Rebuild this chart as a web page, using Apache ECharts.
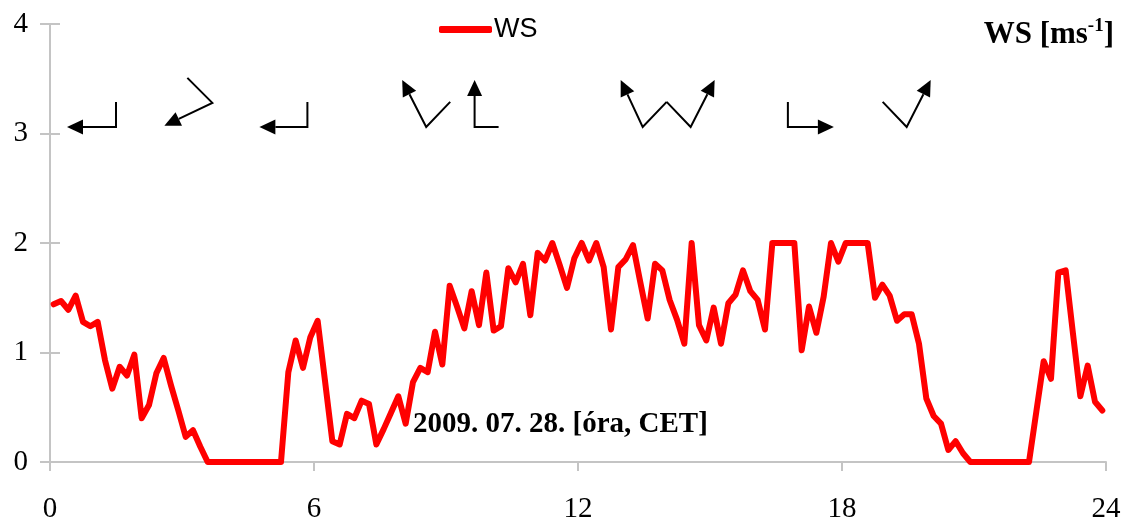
<!DOCTYPE html>
<html>
<head>
<meta charset="utf-8">
<script src="https://cdn.jsdelivr.net/npm/echarts@6/dist/echarts.min.js"></script>
<style>
html,body{margin:0;padding:0;background:#fff;}
#chart{width:1135px;height:524px;}
</style>
</head>
<body>
<div id="chart"></div>
<script>
// 10-minute wind speed values, 2009-07-28 (144 intervals, plotted at interval centres)
const wsValues = [
  1.44,1.47,1.39,1.52,1.28,1.24,1.28,0.93,0.67,0.87,0.79,0.98,
  0.40,0.52,0.81,0.95,0.70,0.47,0.23,0.29,0.14,0.00,0.00,0.00,
  0.00,0.00,0.00,0.00,0.00,0.00,0.00,0.00,0.82,1.11,0.86,1.14,
  1.29,0.74,0.19,0.16,0.44,0.40,0.56,0.53,0.16,0.30,0.45,0.60,
  0.35,0.73,0.86,0.82,1.19,0.89,1.61,1.42,1.22,1.56,1.25,1.73,
  1.20,1.24,1.77,1.64,1.81,1.34,1.91,1.84,2.00,1.80,1.59,1.86,
  2.00,1.84,2.00,1.78,1.21,1.78,1.85,1.98,1.64,1.31,1.81,1.75,
  1.48,1.30,1.08,2.00,1.25,1.11,1.41,1.08,1.45,1.53,1.75,1.56,
  1.48,1.21,2.00,2.00,2.00,2.00,1.02,1.42,1.18,1.51,2.00,1.83,
  2.00,2.00,2.00,2.00,1.50,1.62,1.52,1.29,1.35,1.35,1.08,0.58,
  0.42,0.35,0.11,0.19,0.08,0.00,0.00,0.00,0.00,0.00,0.00,0.00,
  0.00,0.00,0.46,0.92,0.76,1.73,1.75,1.17,0.60,0.88,0.55,0.47
];
const stepsPerHour = 6;
const xTicks = [0, 6, 12, 18, 24];
const yTicks = [0, 1, 2, 3, 4];
const seriesName = 'WS';
const unitTitle = 'WS [ms{sup|-1}]';
const dateLabel = '2009. 07. 28. [óra, CET]';

// wind direction glyphs: hour and level of the corner, tail and head vectors (px)
const arrowHours  = [1.50, 3.69, 5.85, 8.55, 9.65, 13.47, 14.56, 16.77, 19.47];
const arrowLevels = [3.06, 3.28, 3.06, 3.06, 3.06, 3.06, 3.06, 3.06, 3.06];
const arrowTails  = [[0,-25],[-25,-25],[0,-25],[24,-25],[24,0],[24,-25],[-24,-25],[0,-25],[-24,-25]];
const arrowHeads  = [[-49,0],[-48,23],[-48,0],[-24,-47],[0,-47],[-22,-47],[24,-47],[46,0],[24,-47]];

const lineData = wsValues.map((v, i) => [(i + 0.5) / stepsPerHour, v]);
const arrowData = arrowHours.map((h, i) => [h, arrowLevels[i], i]);

const chart = echarts.init(document.getElementById('chart'));
const serif = '"Liberation Serif", "Times New Roman", serif';
const sans = '"Liberation Sans", Arial, sans-serif';
const axisGrey = '#c4c4c4';

chart.setOption({
  animation: false,
  backgroundColor: '#ffffff',
  grid: {left: 50, right: 29, top: 24, bottom: 62, containLabel: false},
  legend: {
    left: 434, top: 11,
    data: [seriesName],
    icon: 'roundRect',
    itemWidth: 53, itemHeight: 7, itemGap: 4,
    textStyle: {fontFamily: sans, fontSize: 27, color: '#000', padding: [0,0,0,-3]}
  },
  xAxis: {
    type: 'value', min: 0, max: 24, interval: 6,
    axisLine: {show: true, lineStyle: {color: axisGrey, width: 2}},
    axisTick: {show: true, length: 9, lineStyle: {color: axisGrey, width: 2}},
    splitLine: {show: false},
    axisLabel: {fontFamily: serif, fontSize: 29, color: '#000', margin: 33,
      formatter: v => xTicks.includes(v) ? String(v) : ''}
  },
  yAxis: [
    {
      type: 'value', min: 0, max: 4, interval: 1,
      axisLine: {show: true, lineStyle: {color: axisGrey, width: 2}},
      axisTick: {show: true, length: 10, lineStyle: {color: axisGrey, width: 2}},
      splitLine: {show: false},
      axisLabel: {fontFamily: serif, fontSize: 29, color: '#000', margin: 22,
        formatter: v => yTicks.includes(v) ? String(v) : ''}
    },
    {
      type: 'value', min: 0, max: 4, interval: 1, position: 'left',
      axisLine: {show: false},
      axisTick: {show: true, inside: true, length: 10, lineStyle: {color: axisGrey, width: 2}},
      splitLine: {show: false},
      axisLabel: {show: false}
    }
  ],
  series: [
    {
      name: seriesName, type: 'line', data: lineData,
      showSymbol: false, symbol: 'none', color: '#ff0000',
      lineStyle: {color: '#ff0000', width: 6, join: 'round', cap: 'round'},
      z: 3
    },
    {
      type: 'custom', data: arrowData, clip: false, silent: true, z: 4,
      renderItem: function (params, api) {
        const k = api.value(2);
        const p = api.coord([api.value(0), api.value(1)]);
        const t = arrowTails[k], h = arrowHeads[k];
        const tail = [p[0] + t[0], p[1] + t[1]];
        const tip = [p[0] + h[0], p[1] + h[1]];
        const len = Math.hypot(h[0], h[1]);
        const ux = h[0] / len, uy = h[1] / len;
        const hl = 16, hw = 7.5;
        const base = [tip[0] - ux * hl, tip[1] - uy * hl];
        return {
          type: 'group',
          children: [
            {type: 'polyline', shape: {points: [tail, p, base]},
             style: {stroke: '#000', lineWidth: 2, fill: null}},
            {type: 'polygon', shape: {points: [tip,
              [base[0] - uy * hw, base[1] + ux * hw],
              [base[0] + uy * hw, base[1] - ux * hw]]},
             style: {fill: '#000'}}
          ]
        };
      }
    }
  ],
  graphic: [
    {type: 'text', right: 21, top: 17, z: 10,
     style: {text: unitTitle, fill: '#000',
       font: 'bold 31px ' + serif,
       rich: {sup: {fontSize: 19, fontWeight: 'bold', fontFamily: serif, verticalAlign: 'top', padding: [0,0,16,0]}}}},
    {type: 'text', left: 413, top: 410, z: 10,
     style: {text: dateLabel, fill: '#000', font: 'bold 29px ' + serif}}
  ]
});
</script>
</body>
</html>
